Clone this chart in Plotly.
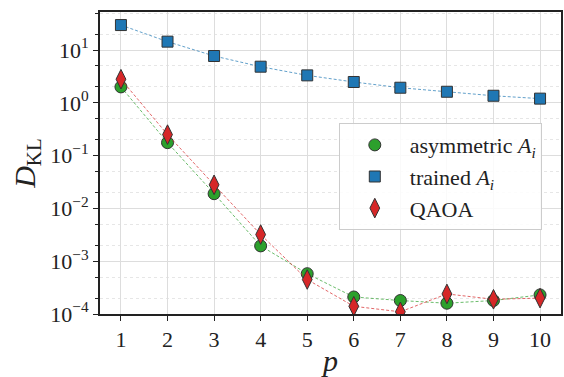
import plotly.graph_objects as go

p = [1, 2, 3, 4, 5, 6, 7, 8, 9, 10]
asym = [2.0, 0.176, 0.019, 1.95e-3, 5.8e-4, 2.1e-4, 1.8e-4, 1.6e-4, 1.8e-4, 2.3e-4]
trained = [29.7, 14.4, 7.7, 4.83, 3.31, 2.48, 1.93, 1.62, 1.36, 1.20]
qaoa = [2.8, 0.25, 0.028, 3.2e-3, 4.5e-4, 1.4e-4, 1.1e-4, 2.4e-4, 1.9e-4, 2.0e-4]

ytick_vals = [1e-4, 1e-3, 1e-2, 1e-1, 1e0, 1e1]
ytick_text = ["10<sup>\u22124</sup>", "10<sup>\u22123</sup>", "10<sup>\u22122</sup>",
              "10<sup>\u22121</sup>", "10<sup>0</sup>", "10<sup>1</sup>"]

FONT = "Liberation Serif"

fig = go.Figure()

series = [
    ("asymmetric <i>A<sub>i</sub></i>", asym, "#2ca02c", "rgba(44,160,44,0.7)", "circle", 12),
    ("trained <i>A<sub>i</sub></i>", trained, "#1f77b4", "rgba(31,119,180,0.7)", "square", 11),
    ("QAOA", qaoa, "#d62728", "rgba(214,39,40,0.7)", "diamond-tall", 14),
]
for name, vals, col, lcol, sym, sz in series:
    mk = dict(symbol=sym, size=sz, color=col, line=dict(color="#333333", width=1))
    fig.add_trace(go.Scatter(
        x=p, y=vals, name=name, mode="lines+markers", showlegend=False,
        line=dict(color=lcol, width=1, dash="3px,2px"),
        marker=mk,
    ))
for name, vals, col, lcol, sym, sz in series:
    fig.add_trace(go.Scatter(
        x=[None], y=[None], name=name, mode="markers", showlegend=True,
        marker=dict(symbol=sym, size=sz, color=col, line=dict(color="#333333", width=1)),
    ))

fig.update_layout(
    width=564, height=377,
    margin=dict(l=100, r=1, t=12, b=63),
    paper_bgcolor="white", plot_bgcolor="white",
    font=dict(family=FONT, size=22, color="#222222"),
    legend=dict(
        x=0.518, y=0.455, xanchor="left", yanchor="middle",
        bgcolor="rgba(255,255,255,0.85)", bordercolor="#cccccc", borderwidth=1,
        font=dict(family=FONT, size=22, color="#222222"),
        itemwidth=60, tracegroupgap=0,
    ),
    showlegend=True,
)

fig.update_xaxes(
    range=[0.55, 10.45], tickvals=p, ticktext=[str(v) for v in p],
    showgrid=True, gridcolor="#dddddd", gridwidth=1,
    showline=True, linecolor="#222222", linewidth=2, mirror=True,
    ticks="outside", ticklen=5, tickcolor="#222222",
    zeroline=False,
    title=dict(text="<i>p</i>", font=dict(family=FONT, size=30), standoff=2),
)
fig.update_yaxes(
    type="log", range=[-4, 1.72],
    tickvals=ytick_vals, ticktext=ytick_text,
    showgrid=True, gridcolor="#dddddd", gridwidth=1,
    showline=True, linecolor="#222222", linewidth=2, mirror=True,
    ticks="outside", ticklen=5, tickcolor="#222222",
    minor=dict(ticks="outside", ticklen=3, tickcolor="#222222",
               showgrid=True, gridcolor="#e6e6e6", griddash="dot"),
    zeroline=False,
    title=dict(text="<i>D</i><sub>KL</sub>", font=dict(family=FONT, size=30), standoff=6),
)

fig.write_html("out.html")
